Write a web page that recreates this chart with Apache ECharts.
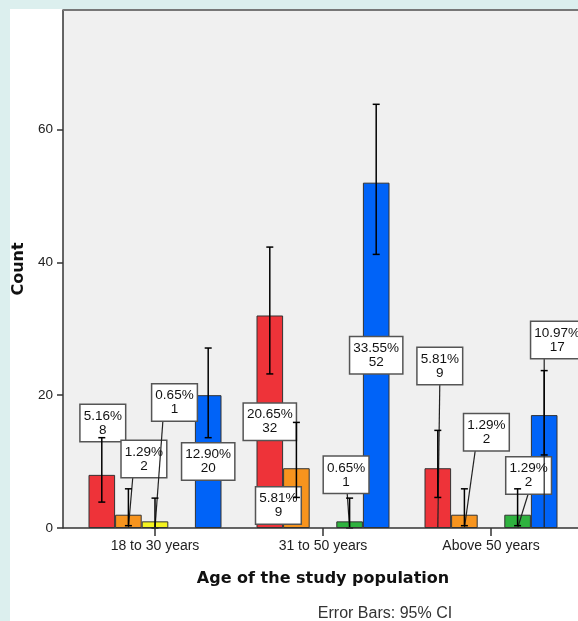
<!DOCTYPE html>
<html><head><meta charset="utf-8">
<script src="https://cdn.jsdelivr.net/npm/echarts@6/dist/echarts.min.js"></script>
<style>html,body{margin:0;padding:0;background:#fff;} #c{width:578px;height:621px;}</style>
</head><body><div id="c"></div>
<script>
// ---- data ----
const categories = ['18 to 30 years', '31 to 50 years', 'Above 50 years'];
const seriesNames = ['Group 1', 'Group 2', 'Group 3', 'Group 4', 'Group 5'];
const redCounts = [8, 32, 9];
const orangeCounts = [2, 9, 2];
const yellowCounts = [1, null, null];
const greenCounts = [null, 1, 2];
const blueCounts = [20, 52, 17];
const redPct = ['5.16%', '20.65%', '5.81%'];
const orangePct = ['1.29%', '5.81%', '1.29%'];
const yellowPct = ['0.65%', null, null];
const greenPct = [null, '0.65%', '1.29%'];
const bluePct = ['12.90%', '33.55%', '10.97%'];
// 95% CI [low, high]
const redCI = [[3.9, 13.6], [23.2, 42.3], [4.6, 14.7]];
const orangeCI = [[0.35, 5.9], [4.6, 15.9], [0.35, 5.9]];
const yellowCI = [[0, 4.5], null, null];
const greenCI = [null, [0, 4.5], [0.35, 5.9]];
const blueCI = [[13.6, 27.1], [41.2, 63.8], [11.0, 23.7]];
const yTicks = [0, 20, 40, 60];

// ---- label placement (layout only): [dx px from bar centre, box centre y in axis units, leader start dx or null]
const labelPlace = [
  [[1, 15.8, null], [0, 16.0, null], [2, 24.4, 0]],
  [[15.5, 10.4, -11], [-18, 3.4, null], [22, 14.4, -11]],
  [[19.5, 18.9, -11.5], null, null],
  [null, [-3.5, 8.0, 1], [11, 7.9, 0]],
  [[0, 10.0, null], [0, 26.0, null], [13, 28.3, -13]]
];

const BAR_W = 26.6;
const colors = ['#ee3339', '#f7941e', '#f4f21f', '#2fb23f', '#0063f8'];
const counts = [redCounts, orangeCounts, yellowCounts, greenCounts, blueCounts];
const pcts = [redPct, orangePct, yellowPct, greenPct, bluePct];
const cis = [redCI, orangeCI, yellowCI, greenCI, blueCI];

const labelItems = [];
const errItems = [];
for (let s = 0; s < 5; s++) {
  for (let c = 0; c < categories.length; c++) {
    if (counts[s][c] != null) {
      labelItems.push({ s: s, c: c, text: pcts[s][c] + '\n' + counts[s][c], place: labelPlace[s][c] });
    }
    if (cis[s][c]) errItems.push([c, cis[s][c][0], cis[s][c][1], s]);
  }
}

const barSeries = counts.map((arr, s) => ({
  type: 'bar',
  name: seriesNames[s],
  data: arr.map(v => v == null ? '-' : v),
  barWidth: BAR_W,
  barGap: '0%',
  z: 2,
  itemStyle: { color: colors[s], borderColor: '#333', borderWidth: 1 }
}));

const labelSeries = {
  type: 'custom',
  z: 3,
  silent: true,
  data: labelItems.map(d => [d.c, d.place[1]]),
  encode: { x: 0, y: 1 },
  renderItem: function (params, api) {
    const d = labelItems[params.dataIndex];
    const base = api.coord([d.c, 0]);
    const barCx = base[0] + (d.s - 2) * BAR_W;
    const cy = api.coord([d.c, d.place[1]])[1];
    const cx = barCx + d.place[0];
    const children = [];
    if (d.place[2] != null) {
      children.push({ type: 'line', shape: { x1: cx + d.place[2], y1: cy + 17, x2: barCx, y2: base[1] },
        style: { stroke: '#222', lineWidth: 1.2 } });
    }
    children.push({ type: 'text', x: cx, y: cy, style: {
      text: d.text, fill: '#111', font: '13.5px "Liberation Sans", Arial, sans-serif',
      align: 'center', verticalAlign: 'middle', lineHeight: 14,
      backgroundColor: '#fff', borderColor: '#555', borderWidth: 1.5, padding: [4, 3, 4, 3]
    } });
    return { type: 'group', children: children };
  }
};

const errSeries = {
  type: 'custom',
  z: 4,
  silent: true,
  data: errItems,
  encode: { x: 0, y: [1, 2] },
  renderItem: function (params, api) {
    const c = api.value(0), lo = api.value(1), hi = api.value(2), s = api.value(3);
    const p0 = api.coord([c, lo]);
    const p1 = api.coord([c, hi]);
    const x = p0[0] + (s - 2) * BAR_W;
    const cw = 3.5;
    const st = { stroke: '#000', lineWidth: 1.5 };
    return { type: 'group', children: [
      { type: 'line', shape: { x1: x, y1: p1[1], x2: x, y2: p0[1] }, style: st },
      { type: 'line', shape: { x1: x - cw, y1: p1[1], x2: x + cw, y2: p1[1] }, style: st },
      { type: 'line', shape: { x1: x - cw, y1: p0[1], x2: x + cw, y2: p0[1] }, style: st }
    ] };
  }
};

const chart = echarts.init(document.getElementById('c'), null, { renderer: 'canvas' });
chart.setOption({
  animation: false,
  backgroundColor: '#fff',
  grid: { left: 71, top: 10, width: 504, height: 518 },
  xAxis: {
    type: 'category', data: categories,
    axisLine: { show: false },
    axisTick: { show: true, alignWithLabel: true, length: 8, lineStyle: { color: '#333', width: 1.5 } },
    axisLabel: { margin: 11, fontSize: 14, color: '#222', fontFamily: '"Liberation Sans", Arial, sans-serif' },
    name: 'Age of the study population', nameLocation: 'middle', nameGap: 43,
    nameTextStyle: { fontFamily: '"DejaVu Sans", sans-serif', fontWeight: 'bold', fontSize: 16, color: '#111' }
  },
  yAxis: {
    type: 'value', min: 0, max: 78, interval: 20, offset: 8,
    axisLine: { show: true, lineStyle: { color: '#333', width: 1.5 } },
    axisTick: { show: true, length: 6, customValues: yTicks, lineStyle: { color: '#333', width: 1.5 } },
    axisLabel: { customValues: yTicks, margin: 10, fontSize: 13.5, color: '#222', fontFamily: '"Liberation Sans", Arial, sans-serif' },
    splitLine: { show: false },
    name: 'Count', nameLocation: 'middle', nameGap: 36,
    nameTextStyle: { fontFamily: '"DejaVu Sans", sans-serif', fontWeight: 'bold', fontSize: 16, color: '#111' }
  },
  graphic: [
    { type: 'rect', z: -10, shape: { x: 63, y: 10, width: 530, height: 518 }, style: { fill: '#f0f0f0' } },
    { type: 'rect', z: 10, shape: { x: 0, y: 0, width: 10, height: 621 }, style: { fill: '#dcefee' } },
    { type: 'rect', z: 10, shape: { x: 0, y: 0, width: 578, height: 9 }, style: { fill: '#dcefee' } },
    { type: 'line', z: 10, shape: { x1: 63, y1: 10, x2: 590, y2: 10 }, style: { stroke: '#777', lineWidth: 2 } },
    { type: 'line', z: 10, shape: { x1: 63, y1: 528, x2: 590, y2: 528 }, style: { stroke: '#333', lineWidth: 1.5 } },
    { type: 'text', z: 10, x: 385, y: 614, style: { text: 'Error Bars: 95% CI', fill: '#333', font: '16px "Liberation Sans", Arial, sans-serif', align: 'center', verticalAlign: 'middle' } }
  ],
  series: barSeries.concat([labelSeries, errSeries])
});
</script></body></html>
